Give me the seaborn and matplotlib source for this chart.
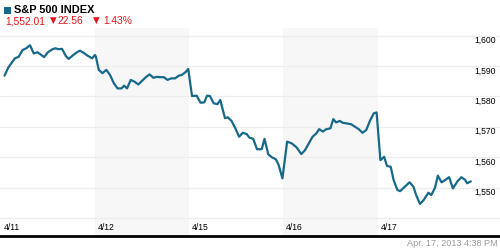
import matplotlib
matplotlib.use("Agg")
import matplotlib.pyplot as plt
import matplotlib.transforms as mtransforms
import seaborn as sns
import pandas as pd

# session position in trading days (0 = open of 4/11) and index level
session_pos = [
    0.04, 0.08, 0.15, 0.19, 0.23, 0.27, 0.31, 0.35, 0.39, 0.42, 0.46, 0.50,
    0.55, 0.58, 0.61, 0.65, 0.69, 0.72, 0.77, 0.81, 0.84, 0.88, 0.92, 0.97, 1.00,
    1.01, 1.04, 1.08, 1.12, 1.16, 1.20, 1.24, 1.28, 1.31, 1.34, 1.38, 1.42,
    1.46, 1.50, 1.54, 1.58, 1.62, 1.66, 1.69, 1.73, 1.77, 1.81, 1.85, 1.89,
    1.92, 1.96, 1.99,
    2.03, 2.08, 2.12, 2.16, 2.19, 2.22, 2.26, 2.30, 2.33, 2.38, 2.41, 2.45,
    2.49, 2.53, 2.57, 2.61, 2.64, 2.68, 2.72, 2.77, 2.80, 2.84, 2.88, 2.92,
    2.95, 2.99,
    3.04, 3.09, 3.14, 3.19, 3.23, 3.27, 3.31, 3.35, 3.38, 3.42, 3.45, 3.50,
    3.53, 3.56, 3.60, 3.63, 3.67, 3.72, 3.76, 3.80, 3.84, 3.88, 3.92, 3.96, 3.99,
    4.03, 4.07, 4.10, 4.14, 4.17, 4.21, 4.24, 4.29, 4.34, 4.38, 4.41, 4.45,
    4.49, 4.54, 4.57, 4.61, 4.64, 4.68, 4.72, 4.76, 4.80, 4.85, 4.89, 4.93,
    4.95, 4.99,
]
price = [
    1586.8, 1589.5, 1592.5, 1593.0, 1595.2, 1595.8, 1596.8, 1594.1, 1594.5,
    1593.8, 1592.9, 1594.5, 1595.5, 1595.8, 1595.5, 1595.6, 1593.3, 1592.3,
    1593.6, 1594.5, 1595.0, 1594.3, 1593.4, 1592.5, 1593.6,
    1593.0, 1588.7, 1587.6, 1588.7, 1587.0, 1584.3, 1582.6, 1582.6, 1583.5,
    1582.6, 1585.4, 1584.8, 1583.9, 1585.1, 1586.3, 1587.2, 1586.1, 1586.4,
    1586.3, 1586.3, 1585.4, 1585.9, 1585.9, 1586.8, 1587.0, 1587.9, 1589.0,
    1580.1, 1580.2, 1577.9, 1578.0, 1580.2, 1580.1, 1577.7, 1577.4, 1578.8,
    1572.8, 1573.1, 1571.9, 1569.5, 1566.7, 1568.0, 1567.6, 1566.4, 1566.0,
    1562.6, 1562.6, 1566.0, 1560.9, 1559.9, 1559.3, 1557.4, 1553.0,
    1565.1, 1564.5, 1563.2, 1561.0, 1562.3, 1564.5, 1566.7, 1567.8, 1569.2,
    1568.4, 1569.1, 1569.5, 1572.5, 1571.4, 1571.9, 1571.3, 1571.1, 1570.8,
    1570.0, 1569.2, 1568.0, 1568.9, 1572.0, 1574.4, 1574.7,
    1559.0, 1560.1, 1557.1, 1556.8, 1552.5, 1549.2, 1548.8, 1550.3, 1551.7,
    1550.3, 1547.5, 1544.6, 1545.9, 1548.3, 1547.5, 1549.9, 1553.9, 1551.7,
    1552.5, 1553.4, 1549.7, 1552.1, 1553.4, 1552.5, 1551.4, 1552.0,
]

day_labels = ["4/11", "4/12", "4/15", "4/16", "4/17"]
shaded_days = [1, 3]
y_ticks = [1550, 1560, 1570, 1580, 1590, 1600]
grid_levels = [1540, 1550, 1560, 1570, 1580, 1590, 1600]

title = "S&P 500 INDEX"
last_value = "1,552.01"
change_pts = "22.56"
change_pct = "1.43%"
timestamp = "Apr. 17, 2013 4:38 PM"

LINE = "#17698a"
RED = "#e8141b"

sns.set_style("white")
plt.rcParams["font.family"] = ["Liberation Sans", "DejaVu Sans"]

df = pd.DataFrame({"pos": session_pos, "price": price})

fig = plt.figure(figsize=(5, 2.5), dpi=100)
ax = fig.add_axes([0, 0.056, 1, 0.832])

for d in shaded_days:
    ax.axvspan(d, d + 1, color="#f7f7f7", lw=0, zorder=0)
for g in grid_levels:
    ax.axhline(g, color="#ededed", lw=0.9, zorder=1)

sns.lineplot(data=df, x="pos", y="price", ax=ax, color=LINE, lw=1.6, zorder=3)

ax.set_xlim(-0.0085, 5.30)
ax.set_ylim(1534.05, 1602.47)
ax.set_xticks([])
ax.set_yticks([])
ax.set_xlabel("")
ax.set_ylabel("")
for s in ["top", "left", "right"]:
    ax.spines[s].set_visible(False)
ax.spines["bottom"].set_color("black")
ax.spines["bottom"].set_linewidth(2)

# y labels drawn inside the plot on the right, a bit below each gridline
ytrans = mtransforms.offset_copy(ax.get_yaxis_transform(), fig=fig, y=-5, units="dots")
for t in y_ticks:
    ax.text(0.992, t, f"{t:,}", transform=ytrans, ha="right", va="center",
            fontsize=6.2, color="black")

# day labels along the bottom
xtrans = ax.get_xaxis_transform()
for i, lab in enumerate(day_labels):
    ax.text(i + 0.03, 0.04, lab, transform=xtrans, ha="left", va="center",
            fontsize=6.2, color="black")

# header
fig.patches.append(plt.Rectangle((4 / 500, 1 - 14 / 250), 7 / 500, 7 / 250,
                                 transform=fig.transFigure, color=LINE, lw=0))
fig.text(14 / 500, 1 - 10 / 250, title, fontsize=7.9, fontweight="bold",
         va="center", ha="left", color="black")
fig.text(5 / 500, 1 - 21 / 250, last_value, fontsize=7.4, va="center",
         ha="left", color=RED)
fig.text(50 / 500, 1 - 20 / 250, "\u25bc", fontsize=6.2, va="center",
         ha="left", color=RED, family="DejaVu Sans")
fig.text(58 / 500, 1 - 21 / 250, change_pts, fontsize=7.4, va="center",
         ha="left", color=RED)
fig.text(93 / 500, 1 - 20 / 250, "\u25bc", fontsize=6.2, va="center",
         ha="left", color=RED, family="DejaVu Sans")
fig.text(103 / 500, 1 - 21 / 250, change_pct, fontsize=7.4, va="center",
         ha="left", color=RED)

fig.text(498 / 500, 1 - 244 / 250, timestamp, fontsize=6.6, va="center",
         ha="right", color="#9a9a9a")

fig.savefig("out.png", dpi=100)
plt.close(fig)
